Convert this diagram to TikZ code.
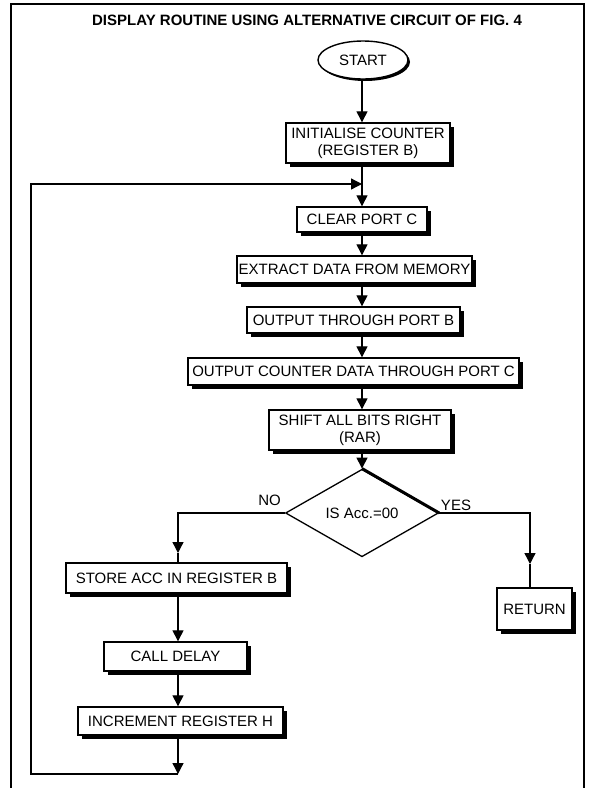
\documentclass[tikz,border=0pt]{standalone}
\usepackage{fontspec}
\setmainfont{Liberation Sans}
\usetikzlibrary{arrows.meta,shapes.geometric,shadows}
\begin{document}
\begin{tikzpicture}[x=1pt, y=-1pt,
  every node/.style={font=\fontsize{15}{17}\selectfont, inner sep=1pt},
  box/.style={draw, line width=1.4pt, fill=white, align=center,
    drop shadow={shadow xshift=3.5pt, shadow yshift=-3.5pt, fill=black, opacity=1}},
  term/.style={draw, line width=1.4pt, fill=white, ellipse,
    drop shadow={shadow xshift=2pt, shadow yshift=-2pt, fill=black, opacity=1}},
  test/.style={draw, line width=1.3pt, fill=white, diamond, align=center},
  arr/.style={line width=1.3pt, -{Triangle[width=11pt,length=11pt]}},
  wire/.style={line width=1.3pt}]
\useasboundingbox (0,0) rectangle (590,788);
\draw[line width=1.2pt] (11,792) -- (11,4) -- (584,4) -- (584,792);
\node[font=\bfseries\fontsize{15}{17}\selectfont] (title) at (307,20.5) {DISPLAY ROUTINE USING ALTERNATIVE CIRCUIT OF FIG. 4};
\coordinate (col) at (362,0);
\coordinate (lcol) at (178,0);
\node[term, minimum width=90pt, minimum height=38pt] (start) at (363,60) {START};
\node[box, minimum width=164pt, minimum height=40pt] (init) at (368,143) {INITIALISE COUNTER\\(REGISTER B)};
\node[box, minimum width=130pt, minimum height=25pt] (clear) at (362,219.5) {CLEAR PORT C};
\node[box, minimum width=235pt, minimum height=27pt] (extract) at (354.5,269.5) {EXTRACT DATA FROM MEMORY};
\node[box, minimum width=213pt, minimum height=26pt] (portb) at (353.5,320) {OUTPUT THROUGH PORT B};
\node[box, minimum width=331pt, minimum height=27pt] (portc) at (353.5,371.5) {OUTPUT COUNTER DATA THROUGH PORT C};
\node[box, minimum width=182pt, minimum height=40pt] (shift) at (360,430) {SHIFT ALL BITS RIGHT\\(RAR)};
\node[test, minimum width=153pt, minimum height=72pt] (zero) at (362,513) {IS Acc.=00};
\draw[line width=3pt] (zero.north) -- (zero.east);
\node (no) at (269.5,500.5) {NO};
\node (yes) at (456,505) {YES};
\node[box, minimum width=221pt, minimum height=30pt] (store) at (176.5,578) {STORE ACC IN REGISTER B};
\node[box, minimum width=143pt, minimum height=29pt] (delay) at (175.5,656.5) {CALL DELAY};
\node[box, minimum width=205pt, minimum height=28pt] (inch) at (180.5,721) {INCREMENT REGISTER H};
\node[box, minimum width=75pt, minimum height=42pt] (ret) at (534.5,609) {RETURN};
\coordinate (nomid) at (178,553);
\coordinate (yesmid) at (530,564);
\coordinate (loopin) at (362,184);
\coordinate (loopend) at (178,774);
\coordinate (loopcorner) at (31,774);
\draw[arr] (start.south -| col) -- (init.north -| col);
\draw[arr] (init.south -| col) -- (clear.north -| col);
\draw[arr] (clear.south -| col) -- (extract.north -| col);
\draw[arr] (extract.south -| col) -- (portb.north -| col);
\draw[arr] (portb.south -| col) -- (portc.north -| col);
\draw[arr] (portc.south -| col) -- (shift.north -| col);
\draw[arr] (shift.south -| col) -- (zero.north);
\draw[arr] (zero.west) -| (nomid);
\draw[wire] (nomid) -- (store.north -| nomid);
\draw[arr] (zero.east) -| (yesmid);
\draw[wire] (yesmid) -- (ret.north -| yesmid);
\draw[arr] (store.south -| lcol) -- (delay.north -| lcol);
\draw[arr] (delay.south -| lcol) -- (inch.north -| lcol);
\draw[arr] (inch.south -| lcol) -- (loopend);
\draw[arr] (loopend) -- (loopcorner) |- (loopin);
\end{tikzpicture}
\end{document}
